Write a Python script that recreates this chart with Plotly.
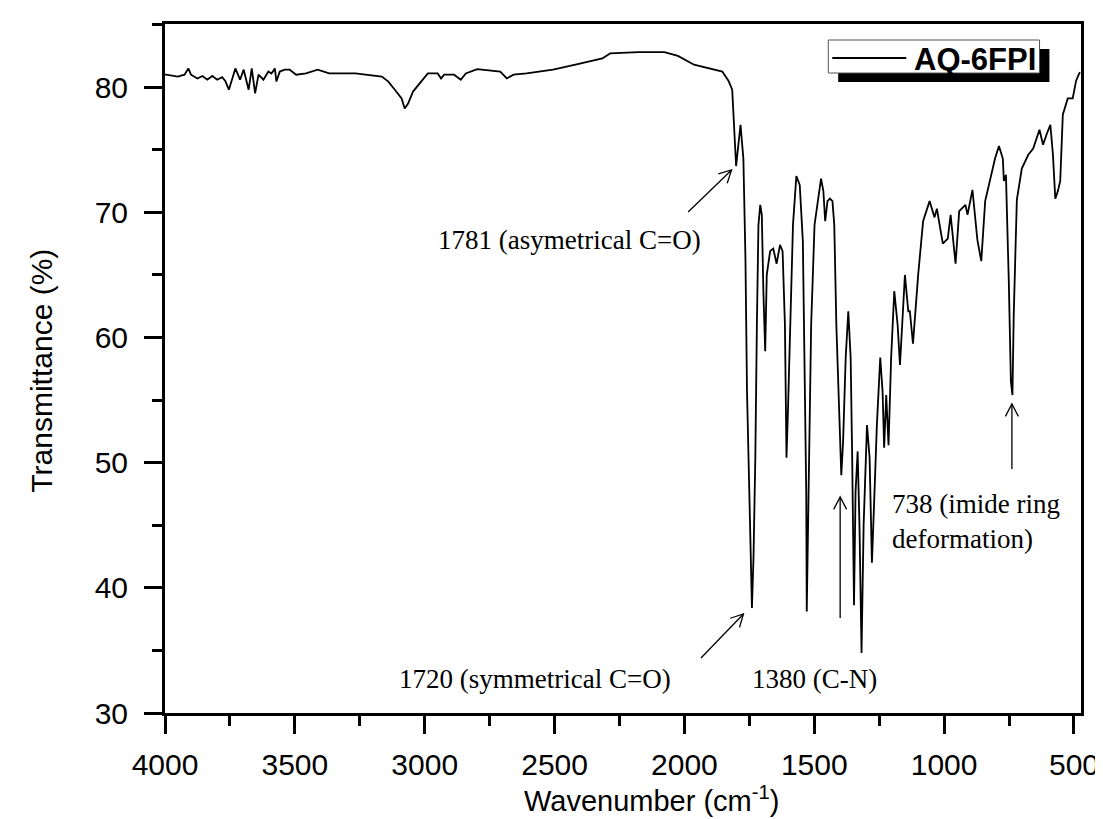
import math
import plotly.graph_objects as go

# Wavenumber (cm-1) and transmittance (%)
wavenumber = [
    4000, 3995, 3951, 3925, 3910, 3900, 3875, 3856, 3837, 3818, 3799, 3780, 3768,
    3754, 3729, 3711, 3697, 3678, 3666, 3653, 3640, 3621, 3602, 3590, 3577, 3571,
    3558, 3539, 3520, 3495, 3457, 3412, 3368, 3267, 3165, 3140, 3115, 3089, 3077,
    3064, 3045, 3013, 2988, 2950, 2937, 2925, 2887, 2861, 2842, 2798, 2709, 2684,
    2658, 2608, 2506, 2411, 2316, 2286, 2177, 2077, 2025, 1963, 1854, 1830, 1816,
    1801, 1784, 1773, 1765, 1759, 1749, 1740, 1734, 1727, 1721, 1715, 1708, 1702,
    1696, 1689, 1683, 1670, 1658, 1645, 1632, 1622, 1613, 1607, 1601, 1594, 1582,
    1569, 1556, 1544, 1537, 1531, 1529, 1521, 1512, 1499, 1474, 1465, 1458, 1449,
    1440, 1430, 1423, 1415, 1404, 1396, 1389, 1379, 1369, 1360, 1354, 1347, 1341,
    1333, 1326, 1318, 1310, 1297, 1287, 1278, 1268, 1259, 1246, 1237, 1231, 1223,
    1214, 1204, 1192, 1179, 1170, 1161, 1151, 1138, 1132, 1120, 1100, 1081, 1056,
    1037, 1028, 1005, 986, 975, 956, 942, 918, 910, 891, 872, 857, 842, 823, 804,
    789, 774, 770, 762, 751, 743, 737, 732, 720, 701, 676, 657, 633, 619, 606, 591,
    581, 572, 562, 553, 543, 524, 505, 492, 482, 477,
]
transmittance = [
    81.0, 81.0, 80.85, 81.0, 81.5, 81.0, 80.7, 80.9, 80.6, 80.9, 80.6, 80.8, 80.5,
    79.8, 81.5, 80.6, 81.4, 79.8, 81.5, 79.5, 81.0, 80.6, 81.25, 81.1, 81.5, 80.45,
    81.25, 81.4, 81.4, 81.0, 81.1, 81.4, 81.1, 81.1, 80.85, 80.45, 79.8, 79.1, 78.3,
    78.7, 79.65, 80.45, 81.1, 81.1, 80.7, 81.0, 81.0, 80.6, 81.1, 81.45, 81.25, 80.7,
    81.0, 81.1, 81.4, 81.85, 82.3, 82.7, 82.8, 82.8, 82.5, 81.8, 81.25, 80.5, 79.8,
    73.7, 77.0, 74.3, 66.3, 55.7, 45.0, 38.4, 42.4, 50.4, 61.0, 69.0, 70.6, 69.8,
    63.7, 58.9, 65.0, 66.9, 67.1, 65.9, 67.4, 66.9, 61.0, 50.4, 54.4, 59.7, 69.0,
    72.9, 72.2, 67.7, 58.4, 47.7, 38.1, 50.4, 61.0, 69.0, 72.7, 71.7, 69.3, 70.9,
    71.1, 70.9, 69.0, 61.0, 53.0, 49.0, 51.7, 58.4, 62.1, 58.4, 50.4, 38.6, 47.7,
    50.9, 45.0, 34.8, 45.0, 53.0, 50.4, 42.0, 47.7, 53.0, 58.4, 55.7, 51.2, 55.4,
    51.4, 58.4, 63.7, 61.0, 57.8, 61.0, 65.0, 62.1, 62.1, 59.5, 65.0, 69.3, 70.9,
    69.6, 70.3, 67.5, 67.9, 69.8, 65.9, 70.1, 70.6, 69.8, 71.8, 67.8, 66.1, 70.9, 72.5, 74.3,
    75.3, 74.3, 72.5, 73.0, 64.5, 56.5, 55.4, 61.8, 71.0, 73.5, 74.6, 75.1, 76.6, 75.4, 76.2, 77.0,
    74.6, 71.1, 71.7, 72.5, 77.8, 79.1, 79.1, 80.5, 81.0, 81.2,
]
assert len(wavenumber) == len(transmittance)

series_name = "AQ-6FPI"
x_ticks = [4000, 3500, 3000, 2500, 2000, 1500, 1000, 500]
y_ticks = [30, 40, 50, 60, 70, 80]
peak_labels = ["1781 (asymetrical C=O)", "1720 (symmetrical C=O)", "1380 (C-N)",
               "738 (imide ring<br>deformation)"]

W, H = 1103, 819
L, R, T, B = 157, 1085, 16, 705
pw, ph = R - L, B - T


def px(x):
    return (x - L) / pw


def py(y):
    return (B - y) / ph


SANS = "Liberation Sans, Arial, sans-serif"
SERIF = "Liberation Serif, Times New Roman, serif"

fig = go.Figure()
fig.add_trace(go.Scatter(x=wavenumber, y=transmittance, mode="lines",
                         name=series_name, line=dict(color="black", width=1.8),
                         showlegend=False))

axis_common = dict(showline=True, linecolor="black", linewidth=3, mirror=True,
                   ticks="outside", ticklen=18, tickwidth=3, tickcolor="black",
                   showgrid=False, zeroline=False,
                   tickfont=dict(family=SANS, size=30, color="black"))

fig.update_xaxes(range=[4000, 473], tickvals=x_ticks, ticklabelstandoff=5,
                 minor=dict(ticks="outside", ticklen=10, tickwidth=3,
                            tickcolor="black", dtick=250, tick0=0, showgrid=False),
                 **axis_common)
fig.update_yaxes(range=[30, 85.05], tickvals=y_ticks, ticklabelstandoff=10,
                 minor=dict(ticks="outside", ticklen=10, tickwidth=3,
                            tickcolor="black", dtick=5, tick0=0, showgrid=False),
                 **axis_common)

shapes = [
    # legend shadow and box
    dict(type="rect", xref="paper", yref="paper", x0=px(839), x1=px(1053),
         y0=py(74), y1=py(41), fillcolor="black", line=dict(width=0)),
    dict(type="rect", xref="paper", yref="paper", x0=px(829), x1=px(1043),
         y0=py(65), y1=py(32), fillcolor="white", line=dict(color="#555", width=1)),
    dict(type="line", xref="paper", yref="paper", x0=px(833), x1=px(908),
         y0=py(50), y1=py(50), line=dict(color="black", width=1.8)),
]

# annotation arrows: (tail x, tail y, head x, head y) in pixels
arrows = [
    (687, 204, 731, 162),
    (700, 650, 743, 606),
    (841, 610, 841, 489),
    (1015, 461, 1015, 396),
]
head_len, half_ang = 14, math.radians(28)
for tx, ty, hx, hy in arrows:
    shapes.append(dict(type="line", xref="paper", yref="paper", x0=px(tx), y0=py(ty),
                       x1=px(hx), y1=py(hy), line=dict(color="black", width=1.3)))
    d = math.hypot(hx - tx, hy - ty)
    ux, uy = (tx - hx) / d, (ty - hy) / d
    pts = []
    for s in (1, -1):
        c, sn = math.cos(s * half_ang), math.sin(s * half_ang)
        pts.append((hx + head_len * (ux * c - uy * sn), hy + head_len * (ux * sn + uy * c)))
    path = "M {:.5f},{:.5f} L {:.5f},{:.5f} L {:.5f},{:.5f}".format(
        px(pts[0][0]), py(pts[0][1]), px(hx), py(hy), px(pts[1][0]), py(pts[1][1]))
    shapes.append(dict(type="path", xref="paper", yref="paper", path=path,
                       line=dict(color="black", width=1.3)))

annotations = [
    dict(text="<b>" + series_name + "</b>", xref="paper", yref="paper",
         x=px(1041), y=py(51), xanchor="right", yanchor="middle", showarrow=False,
         font=dict(family=SANS, size=31, color="black")),
    # axis titles
    dict(text="Transmittance (%)", xref="paper", yref="paper", x=px(31), y=py(363),
         textangle=-90, showarrow=False, xanchor="center", yanchor="middle",
         font=dict(family=SANS, size=30, color="black")),
    dict(text="Wavenumber (cm<sup>-1</sup>)", xref="paper", yref="paper", x=px(650),
         y=py(811), showarrow=False, xanchor="center", yanchor="bottom",
         font=dict(family=SANS, size=29, color="black")),
    # peak labels
    dict(text=peak_labels[0], xref="paper", yref="paper", x=px(567), y=py(232),
         showarrow=False, xanchor="center", yanchor="middle",
         font=dict(family=SERIF, size=27, color="black")),
    dict(text=peak_labels[1], xref="paper", yref="paper", x=px(532), y=py(671),
         showarrow=False, xanchor="center", yanchor="middle",
         font=dict(family=SERIF, size=27, color="black")),
    dict(text=peak_labels[2], xref="paper", yref="paper", x=px(815), y=py(671),
         showarrow=False, xanchor="center", yanchor="middle",
         font=dict(family=SERIF, size=27, color="black")),
    dict(text=peak_labels[3], xref="paper", yref="paper", x=px(891),
         y=py(513), showarrow=False, xanchor="left", yanchor="middle", align="left",
         font=dict(family=SERIF, size=27, color="black")),
]

fig.update_layout(width=W, height=H, margin=dict(l=L, r=W - R, t=T, b=H - B),
                  plot_bgcolor="white", paper_bgcolor="white",
                  shapes=shapes, annotations=annotations, showlegend=False)

fig.write_html("out.html")
